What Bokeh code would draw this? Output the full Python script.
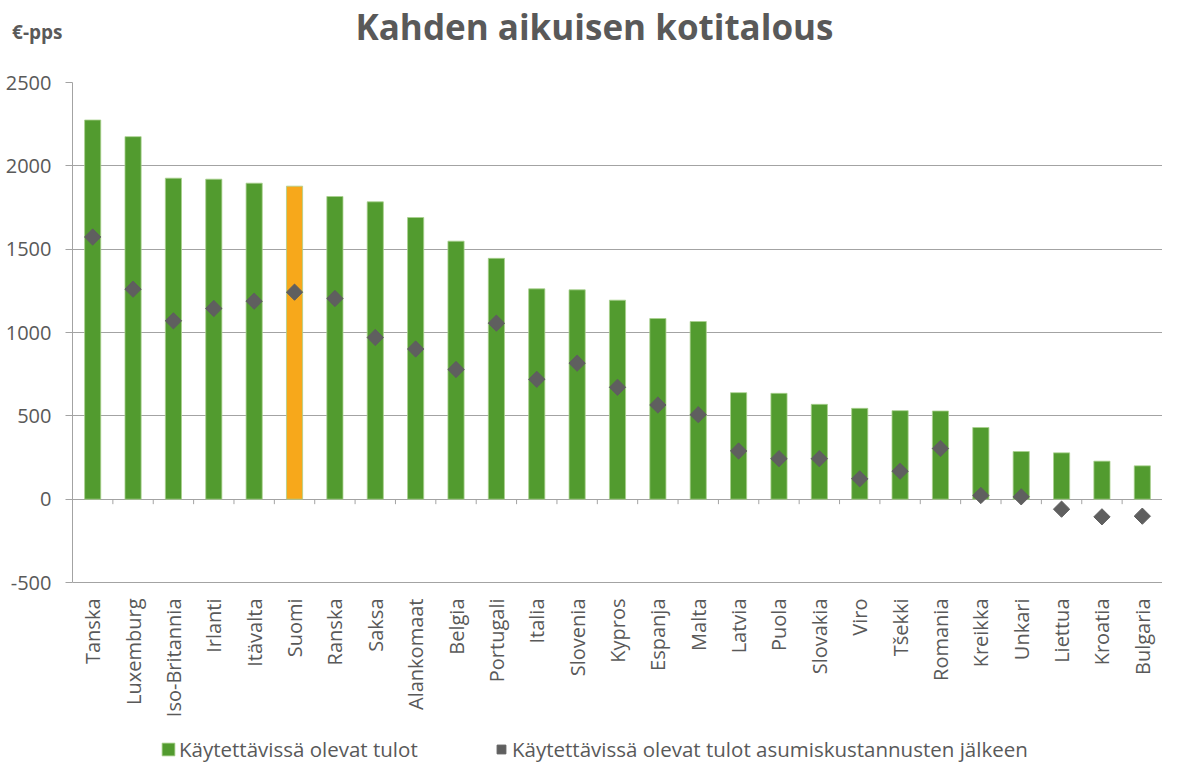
from math import pi
from bokeh.plotting import figure
from bokeh.layouts import column
from bokeh.models import (ColumnDataSource, FactorRange, Range1d, FixedTicker, Label,
                          Legend, LegendItem)
from bokeh.core.properties import value
from bokeh.transform import dodge
from bokeh.embed import file_html
from bokeh.resources import INLINE

countries = ["Tanska", "Luxemburg", "Iso-Britannia", "Irlanti", "Itävalta", "Suomi",
             "Ranska", "Saksa", "Alankomaat", "Belgia", "Portugali", "Italia", "Slovenia",
             "Kypros", "Espanja", "Malta", "Latvia", "Puola", "Slovakia", "Viro", "Tšekki",
             "Romania", "Kreikka", "Unkari", "Liettua", "Kroatia", "Bulgaria"]
income = [2275, 2175, 1926, 1920, 1896, 1878, 1816, 1784, 1690, 1548, 1445, 1262, 1256,
          1194, 1084, 1066, 639, 635, 569, 545, 531, 529, 430, 286, 278, 228, 200]
after_housing = [1573, 1260, 1070, 1144, 1188, 1242, 1204, 970, 901, 778, 1056, 719, 816,
                 671, 565, 507, 289, 243, 243, 122, 168, 304, 22, 14, -60, -106, -102]
highlight = "Suomi"
y_ticks = [-500, 0, 500, 1000, 1500, 2000, 2500]
y_tick_labels = ["-500", "0", "500", "1000", "1500", "2000", "2500"]

title_text = "Kahden aikuisen kotitalous"
unit_text = "€-pps"
series_names = ["Käytettävissä olevat tulot",
                "Käytettävissä olevat tulot asumiskustannusten jälkeen"]

GREEN = "#529B2F"
ORANGE = "#F7A81B"
GREY_MARK = "#5F5F5F"
TEXT = "#595959"
GRID = "#A3A3A3"
FONT = "Open Sans"
W = 1162
TOTAL_H = 763
LEFT = 72
HEAD_H = 70
FW = W - LEFT
PLOT_TOP = 82           # pixel row of the 2500 line
AXIS_PX = 500           # pixels from 2500 to -500
Y_MIN, Y_MAX = y_ticks[0], y_ticks[-1]
U = (Y_MAX - Y_MIN) / AXIS_PX       # data units per pixel
FRAME_H = TOTAL_H - PLOT_TOP
Y_BOTTOM = Y_MAX - FRAME_H * U

# ---------- header (title + unit) ----------
head = figure(frame_width=FW, frame_height=HEAD_H,
              x_range=Range1d(0, FW), y_range=Range1d(0, HEAD_H),
              min_border_left=LEFT, min_border_right=0, min_border_top=0,
              min_border_bottom=0,
              output_backend="svg", toolbar_location=None, tools="")
head.xaxis.visible = False
head.grid.visible = False
head.outline_line_color = None
UNIT_Y = 39
head.yaxis.ticker = FixedTicker(ticks=[UNIT_Y])
head.yaxis.major_label_overrides = {UNIT_Y: unit_text}
head.yaxis.axis_line_color = None
head.yaxis.major_tick_line_color = None
head.yaxis.minor_tick_line_color = None
head.yaxis.major_tick_out = 0
head.yaxis.major_label_standoff = 10
head.yaxis.major_label_text_font = FONT
head.yaxis.major_label_text_font_style = "bold"
head.yaxis.major_label_text_font_size = "19px"
head.yaxis.major_label_text_color = TEXT
head.add_layout(Label(x=594 - LEFT, y=44, text=title_text,
                      text_align="center", text_baseline="alphabetic",
                      text_font=FONT, text_font_style="bold", text_font_size="35px",
                      text_color=TEXT))

# ---------- main chart ----------
colors = [ORANGE if c == highlight else GREEN for c in countries]
src = ColumnDataSource(dict(country=countries, income=income, after=after_housing,
                            color=colors, zero=[0] * len(countries),
                            tick_end=[-5 * U] * len(countries),
                            label_y=[Y_MIN - 16 * U] * len(countries)))

p = figure(x_range=FactorRange(factors=countries, range_padding=0),
           y_range=Range1d(Y_BOTTOM, Y_MAX),
           frame_width=FW, frame_height=FRAME_H,
           min_border_left=LEFT, min_border_right=0, min_border_top=PLOT_TOP - HEAD_H,
           min_border_bottom=0,
           output_backend="svg", toolbar_location=None, tools="")
p.outline_line_color = None
p.xaxis.visible = False

p.yaxis.bounds = (Y_MIN, Y_MAX)
p.yaxis.ticker = FixedTicker(ticks=y_ticks)
p.yaxis.major_label_overrides = dict(zip(y_ticks, y_tick_labels))
p.yaxis.major_label_text_font = FONT
p.yaxis.major_label_text_font_size = "20px"
p.yaxis.major_label_text_color = TEXT
p.yaxis.axis_line_color = GRID
p.yaxis.major_tick_line_color = GRID
p.yaxis.major_tick_out = 7
p.yaxis.major_tick_in = 0
p.yaxis.minor_tick_line_color = None
p.yaxis.major_label_standoff = 14

p.ygrid.ticker = FixedTicker(ticks=y_ticks)
p.ygrid.grid_line_color = GRID
p.xgrid.grid_line_color = None

# category boundary ticks under the zero line
p.segment(x0=dodge("country", 0.5, range=p.x_range), y0="zero",
          x1=dodge("country", 0.5, range=p.x_range), y1="tick_end",
          source=src, line_color=GRID, line_width=1)

bars = p.vbar(x="country", top="income", width=0.4, source=src,
              fill_color="color", line_color="#A9D18E", line_width=0.8)
pts = p.scatter(x="country", y="after", source=src, marker="square", angle=pi / 4,
                size=11.5, fill_color=GREY_MARK, line_color=GREY_MARK)

# category labels (rotated, reading bottom-to-top)
p.text(x="country", y="label_y", text="country", source=src, angle=pi / 2,
       text_align="right", text_baseline="middle",
       text_font=value(FONT), text_font_size=value("20px"), text_color=TEXT)

legend_style = dict(orientation="horizontal", padding=0, margin=0,
                    border_line_color=None, background_fill_alpha=0,
                    label_text_font=FONT, label_text_font_size="20.5px",
                    label_text_color=TEXT)
legend1 = Legend(items=[LegendItem(label=series_names[0], renderers=[bars], index=0)],
                 location=(88, 0), glyph_width=16, glyph_height=16, label_standoff=3,
                 **legend_style)
legend2 = Legend(items=[LegendItem(label=series_names[1], renderers=[pts], index=0)],
                 location=(418, 0), glyph_width=22, glyph_height=22, label_standoff=0,
                 **legend_style)
p.add_layout(legend1, "center")
p.add_layout(legend2, "center")

layout = column(head, p, spacing=0)
open("out.html", "w").write(file_html(layout, INLINE))
